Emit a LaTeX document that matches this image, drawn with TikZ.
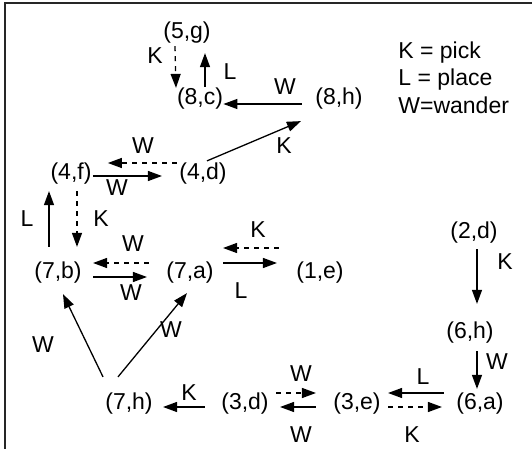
\documentclass[tikz,border=0pt]{standalone}
\usepackage{fontspec}
\setmainfont{Liberation Sans}
\usetikzlibrary{arrows.meta, calc}
\tikzset{
  % state pair (place,item)
  St/.style={inner sep=0pt,font=\fontsize{11.5}{13.5}\selectfont},
  % action letter
  Lb/.style={inner sep=0pt,font=\fontsize{11.5}{13.5}\selectfont},
  % Arrows - solid and dashed
  Arr/.style ={-{Triangle[length=7pt,width=5pt]},line width=0.65pt},
  DArr/.style={Arr,dash pattern=on 2.5pt off 2.5pt},
}
\begin{document}
\begin{tikzpicture}[x=0.5pt,y=-0.5pt]
  \useasboundingbox (0,0) rectangle (532,449);
  \draw[line width=1pt,black!85] (532,3) -- (5,3) -- (5,449);
  % States
  \node[St] at (187,33)  (n5g) {(5,g)};
  \node[St] at (200,99)  (n8c) {(8,c)};
  \node[St] at (339,99)  (n8h) {(8,h)};
  \node[St] at (71,174)  (n4f) {(4,f)};
  \node[St] at (203,174) (n4d) {(4,d)};
  \node[St] at (58,273)  (n7b) {(7,b)};
  \node[St] at (190,273) (n7a) {(7,a)};
  \node[St] at (320,273) (n1e) {(1,e)};
  \node[St] at (474,233) (n2d) {(2,d)};
  \node[St] at (470,333) (n6h) {(6,h)};
  \node[St] at (129,404) (n7h) {(7,h)};
  \node[St] at (245,404) (n3d) {(3,d)};
  \node[St] at (357,404) (n3e) {(3,e)};
  \node[St] at (480,404) (n6a) {(6,a)};
  % Key
  \node[Lb,align=left,anchor=north west,font=\fontsize{11.5}{13.75}\selectfont]
        at (398,41) (key) {K = pick\\L = place\\W=wander};
  % Top cluster
  \draw[DArr] ($(n5g.south)+(-12,2)$) -- ($(n8c.north)+(-24,0)$);
  \draw[Arr]  ($(n8c.north)+(5,-1)$)  -- ($(n5g.south)+(18,9)$);
  \draw[Arr]  ($(n8h.west)+(-13,5)$)  -- ($(n8c.east)+(0,5)$);
  \draw[Arr]  ($(n4d.north)+(4,-2)$)  -- ($(n8h.south west)+(-14,11)$);
  % Middle
  \draw[DArr] ($(n4d.west)+(-2,-11)$) -- ($(n4f.east)+(16,-11)$);
  \draw[Arr]  ($(n4f.east)+(1,2)$)    -- ($(n4d.west)+(-17,2)$);
  \draw[Arr]  ($(n7b.north)+(-9,-15)$) -- ($(n4f.south)+(-22,6)$);
  \draw[DArr] ($(n4f.south)+(6,6)$)   -- ($(n7b.north)+(19,-15)$);
  \draw[DArr] ($(n7a.west)+(-17,-10)$) -- ($(n7b.east)+(11,-10)$);
  \draw[Arr]  ($(n7b.east)+(11,4)$)   -- ($(n7a.west)+(-19,4)$);
  \draw[DArr] ($(n1e.west)+(-17,-25)$) -- ($(n7a.east)+(9,-25)$);
  \draw[Arr]  ($(n7a.east)+(9,-10)$)  -- ($(n1e.west)+(-19,-10)$);
  \draw[Arr]  ($(n7h.north)+(-26,-16)$) -- ($(n7b.south)+(5,10)$);
  \draw[Arr]  ($(n7h.north)+(-11,-16)$) -- ($(n7a.south)+(-3,9)$);
  % Right column
  \draw[Arr]  ($(n2d.south)+(3,5)$)   -- ($(n6h.north)+(7,-18)$);
  \draw[Arr]  ($(n6h.south)+(7,7)$)   -- ($(n6a.north)+(-3,-4)$);
  % Bottom row
  \draw[Arr]  ($(n3d.west)+(-16,3)$)  -- ($(n7h.east)+(10,3)$);
  \draw[DArr] ($(n3d.east)+(7,-11)$)  -- ($(n3e.west)+(-17,-11)$);
  \draw[Arr]  ($(n3e.west)+(-17,3)$)  -- ($(n3d.east)+(11,3)$);
  \draw[Arr]  ($(n6a.west)+(-12,-11)$) -- ($(n3e.east)+(7,-11)$);
  \draw[DArr] ($(n3e.east)+(7,3)$)    -- ($(n6a.west)+(-14,3)$);
  % Action letters
  \foreach \t/\x/\y/\n in {K/155/56/k1, L/230/72/l1, W/285/87/w1,
      K/284/146/k2, W/143/146/w2, W/117/188/w3, L/27/219/l2, K/101/219/k3,
      W/133/244/w4, K/258/230/k4, K/505/262/k5, W/131/293/w5, L/241/291/l3,
      W/43/345/w6, W/171/330/w7, W/497/362/w8, K/189/393/k6, W/301/374/w9,
      W/301/435/w10, L/423/377/l4, K/412/435/k7}
    \node[Lb] at (\x,\y) (\n) {\t};
\end{tikzpicture}
\end{document}
